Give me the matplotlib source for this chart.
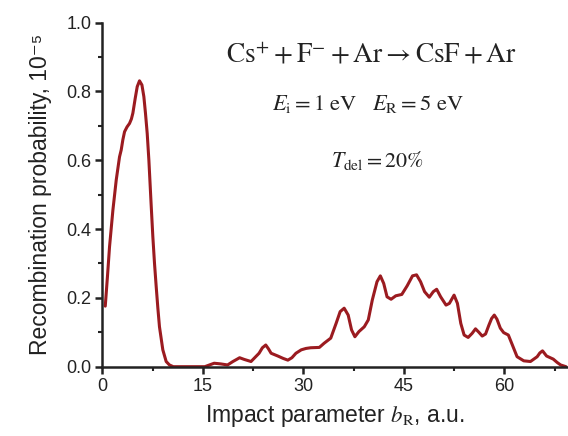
import matplotlib
matplotlib.use("Agg")
import matplotlib.pyplot as plt
from matplotlib.ticker import MultipleLocator

# impact parameter b_R (a.u.) and recombination probability (1e-5)
b_R = [0.45, 0.77, 1.09, 1.59, 2.09, 2.58, 2.83, 3.08, 3.33, 3.7, 4.07, 4.35, 4.57,
       4.92, 5.22, 5.56, 5.92, 6.21, 6.45, 6.71, 6.96, 7.3, 7.55, 7.8, 8.05, 8.3, 8.54,
       9.04, 9.54, 10.03, 10.6, 12.0, 14.0, 15.3, 16.0, 16.7, 17.7, 18.7, 19.5, 20.5,
       21.2, 22.2, 23.4, 23.9, 24.4, 24.8, 25.2, 26.2, 27.0, 27.7, 28.3, 28.9, 29.7,
       30.4, 31.1, 32.4, 33.1, 34.1, 34.9, 35.5, 36.1, 36.7, 37.2, 37.7, 38.3, 39.1,
       39.7, 40.3, 41.0, 41.5, 42.0, 42.5, 43.1, 43.8, 44.7, 45.5, 46.3, 46.9, 47.5,
       48.1, 48.8, 49.4, 49.9, 50.5, 51.3, 51.8, 52.5, 53.0, 53.5, 54.0, 54.6, 55.2,
       55.7, 56.2, 56.7, 57.2, 57.7, 58.1, 58.5, 58.9, 59.4, 59.9, 60.6, 61.2, 61.9,
       62.9, 63.9, 64.9, 65.3, 65.7, 66.3, 67.3, 67.9, 68.4, 69.2]
prob = [0.176, 0.26, 0.349, 0.455, 0.543, 0.61, 0.63, 0.66, 0.683, 0.697, 0.707, 0.72,
        0.737, 0.78, 0.814, 0.831, 0.819, 0.785, 0.737, 0.678, 0.6, 0.47, 0.378, 0.3,
        0.233, 0.17, 0.116, 0.049, 0.015, 0.005, 0.0, 0.0, 0.0, 0.0, 0.005, 0.01, 0.008,
        0.005, 0.015, 0.026, 0.021, 0.015, 0.039, 0.055, 0.063, 0.052, 0.039, 0.031,
        0.024, 0.019, 0.026, 0.039, 0.049, 0.053, 0.055, 0.056, 0.068, 0.083, 0.126,
        0.16, 0.17, 0.15, 0.107, 0.087, 0.102, 0.116, 0.136, 0.194, 0.247, 0.264,
        0.242, 0.203, 0.196, 0.206, 0.21, 0.235, 0.264, 0.267, 0.247, 0.218, 0.202,
        0.218, 0.225, 0.203, 0.179, 0.184, 0.208, 0.184, 0.126, 0.092, 0.085, 0.097,
        0.11, 0.1, 0.089, 0.095, 0.121, 0.14, 0.15, 0.138, 0.112, 0.099, 0.092, 0.063,
        0.029, 0.017, 0.015, 0.029, 0.04, 0.046, 0.031, 0.022, 0.012, 0.005, 0.0]

x_ticks = [0, 15, 30, 45, 60]
y_ticks = [0.0, 0.2, 0.4, 0.6, 0.8, 1.0]

plt.rcParams['mathtext.fontset'] = 'stix'
sans = ['Liberation Sans', 'DejaVu Sans']

fig = plt.figure(figsize=(5.68, 4.36), dpi=100)
ax = fig.add_axes([0.18, 0.159, 0.82, 0.789])

ax.plot(b_R, prob, color='#9B1B20', lw=2.2, solid_joinstyle='round',
        solid_capstyle='round')

ax.set_xlim(0, 69.5)
ax.set_ylim(0, 1.0)
ax.set_xticks(x_ticks)
ax.set_yticks(y_ticks)
ax.set_yticklabels([f'{v:.1f}' for v in y_ticks])
ax.xaxis.set_minor_locator(MultipleLocator(7.5))
ax.yaxis.set_minor_locator(MultipleLocator(0.1))

for s in ['top', 'right']:
    ax.spines[s].set_visible(False)
for s in ['left', 'bottom']:
    ax.spines[s].set_linewidth(1.8)
    ax.spines[s].set_color('#222222')

ax.tick_params(which='major', direction='out', length=5, width=1.8, color='#222222',
               labelsize=13, labelcolor='#222222', pad=3)
ax.tick_params(which='minor', direction='out', length=3, width=1.5, color='#222222')
for lab in ax.get_xticklabels() + ax.get_yticklabels():
    lab.set_family(sans)

ax.set_xlabel(r'Impact parameter $b_\mathrm{R}$, a.u.', fontsize=16.5, family=sans,
              color='#222222', labelpad=6)
ax.set_ylabel('Recombination probability, 10⁻⁵', fontsize=16.5, family=sans,
              color='#222222', labelpad=10)

ax.text(0.577, 0.905, r'$\mathrm{Cs}^{+} + \mathrm{F}^{-} + \mathrm{Ar} \rightarrow \mathrm{CsF} + \mathrm{Ar}$',
        transform=ax.transAxes, ha='center', va='center', fontsize=19.7, color='#222222')
ax.text(0.571, 0.765, r'$E_\mathrm{i} = 1\ \mathrm{eV} \quad E_\mathrm{R} = 5\ \mathrm{eV}$',
        transform=ax.transAxes, ha='center', va='center', fontsize=16.2, color='#222222')
ax.text(0.59, 0.6, r'$T_\mathrm{del} = 20\%$',
        transform=ax.transAxes, ha='center', va='center', fontsize=15.8, color='#222222')

fig.savefig('out.png', dpi=100)
